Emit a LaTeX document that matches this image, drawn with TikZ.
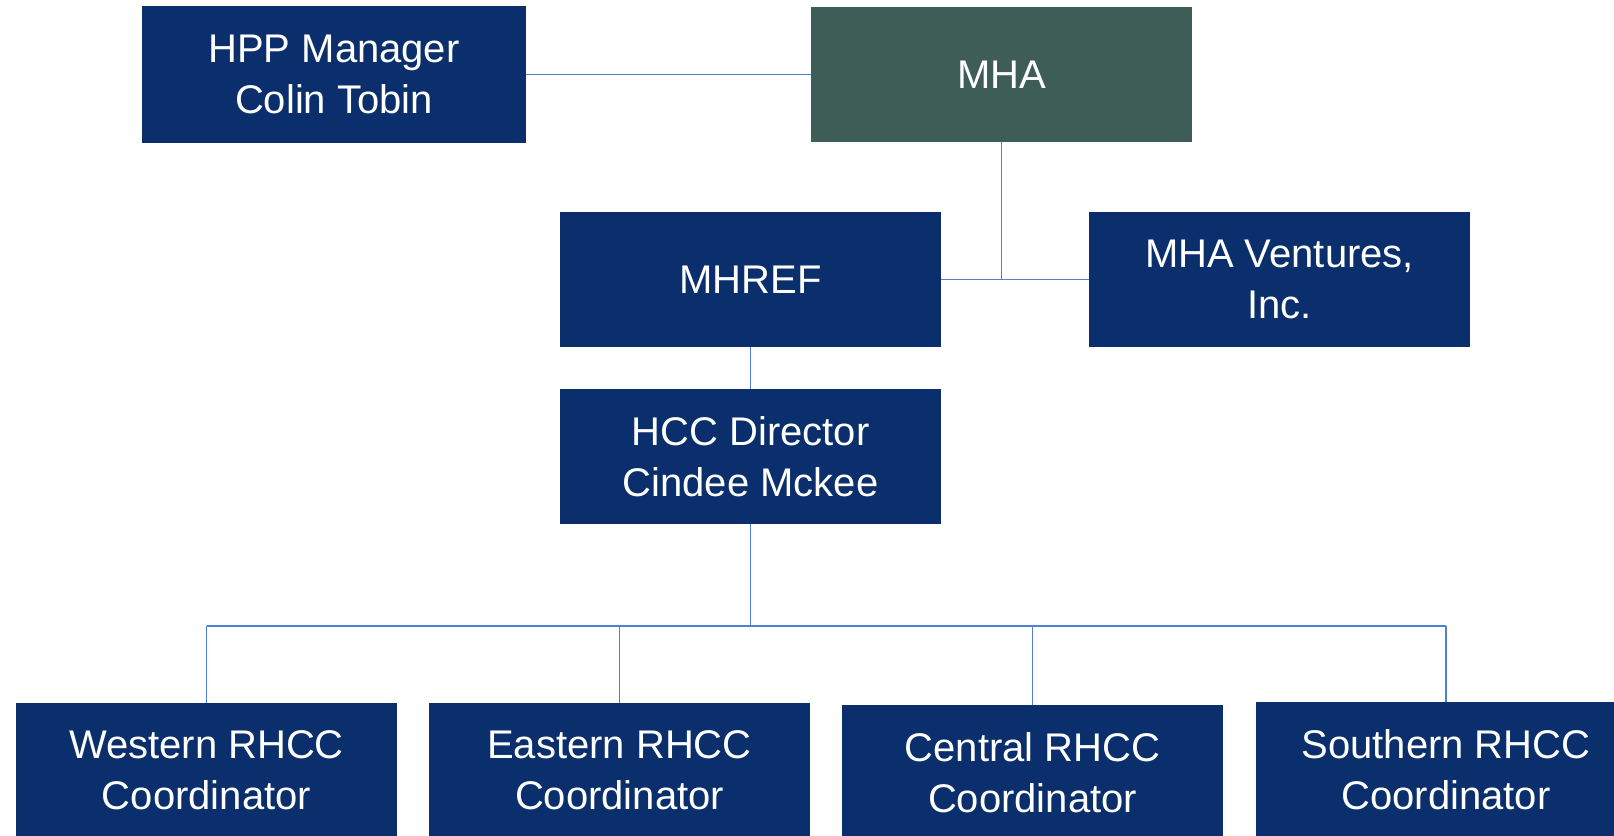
\documentclass[tikz,border=0pt]{standalone}
\usepackage{fontspec}
\setmainfont{Liberation Sans}
\definecolor{navy}{HTML}{0A2F6C}
\definecolor{mhagreen}{HTML}{3E5D56}
\definecolor{linkblue}{HTML}{4F7FD9}
\begin{document}
\begin{tikzpicture}[x=1bp,y=-1bp,
  box/.style={fill=navy,text=white,minimum width=381bp,minimum height=135bp,
    inner sep=0pt,align=center,font=\fontsize{40bp}{51bp}\selectfont},
  greenbox/.style={box,fill=mhagreen},
  link/.style={draw=linkblue,line width=1.4bp}]
\useasboundingbox (0,0) rectangle (1614,835);
\clip (0,0) rectangle (1614,835);
\node[box,minimum width=384bp,minimum height=137bp] (hpp) at (334,74.5) {HPP Manager\\Colin Tobin};
\node[greenbox] (mha) at (1001.5,74.5) {MHA};
\node[box] (mhref) at (750.5,279.5) {MHREF};
\node[box] (ven) at (1279.5,279.5) {MHA Ventures,\\Inc.};
\node[box] (hcc) at (750.5,456.5) {HCC Director\\Cindee Mckee};
\node[box] (west) at (206.5,770.5) {Western RHCC\\Coordinator};
\node[box] (east) at (619.5,770.5) {Eastern RHCC\\Coordinator};
\node[box] (cent) at (1032.5,772.5) {Central RHCC\\Coordinator};
\node[box] (south) at (1446,769.5) {Southern RHCC\\Coordinator};
\coordinate (j1) at (1001.5,279.5);
\coordinate (bus) at (750.5,626);
\draw[link] (hpp.east) -- (hpp.east -| mha.west);
\draw[link] (mha.south) -- (j1);
\draw[link] (mhref.east) -- (ven.west);
\draw[link] (mhref.south) -- (hcc.north);
\draw[link] (hcc.south) -- (bus);
\draw[link] (west.north |- bus) -- (south.north |- bus);
\foreach \n in {west,east,cent,south}{
  \draw[link] (\n.north |- bus) -- (\n.north);
}
\end{tikzpicture}
\end{document}
